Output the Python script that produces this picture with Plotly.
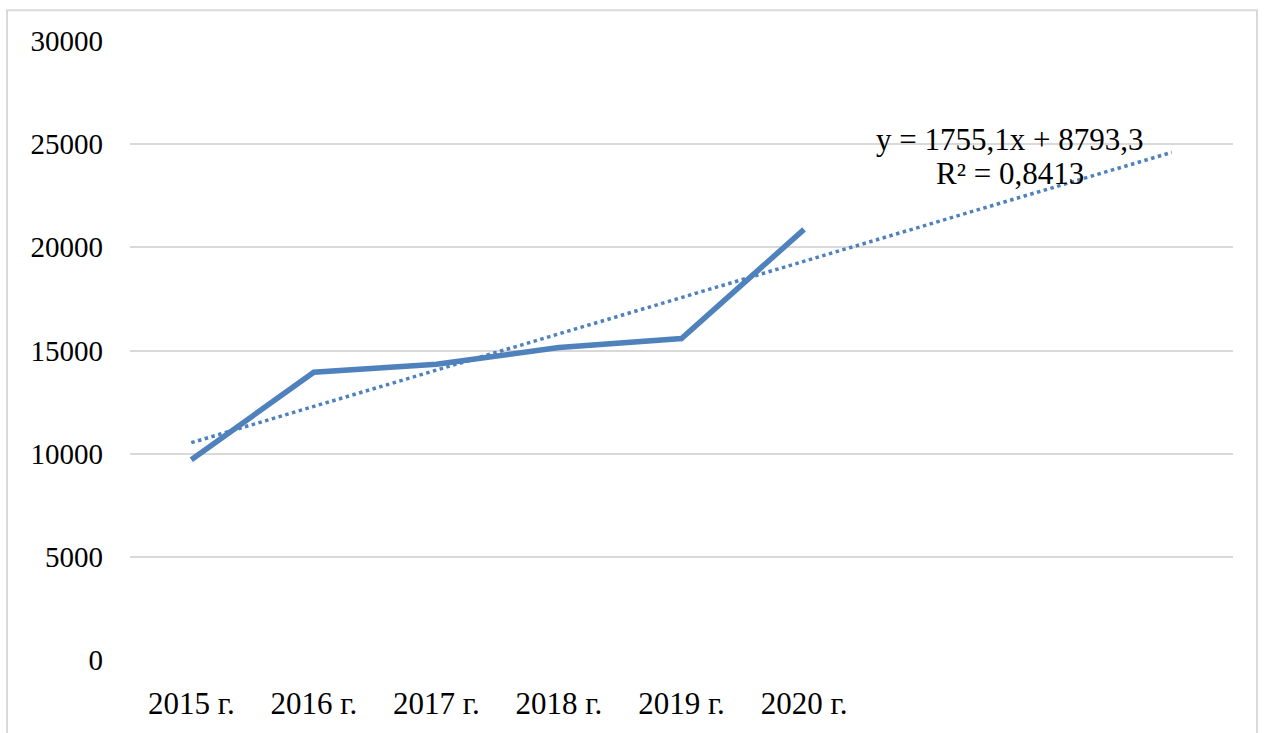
import numpy as np
import plotly.graph_objects as go

years = ["2015 г.", "2016 г.", "2017 г.", "2018 г.", "2019 г.", "2020 г."]
values = [9700, 13950, 14330, 15140, 15580, 20870]
forecast_periods = 3
y_ticks = [0, 5000, 10000, 15000, 20000, 25000, 30000]
y_ticktext = ["0", "5000", "10000", "15000", "20000", "25000", "30000"]
eq_line1 = "y = 1755,1x + 8793,3"
eq_line2 = "R² = 0,8413"

x_idx = np.arange(1, len(years) + 1)
slope, intercept = np.polyfit(x_idx, values, 1)
x_trend = np.arange(1, len(years) + forecast_periods + 1)
y_trend = slope * x_trend + intercept

font_family = "Liberation Serif, Times New Roman, serif"
blue = "#4F81BD"

fig = go.Figure()
fig.add_trace(go.Scatter(x=x_trend, y=y_trend, mode="lines",
                         line=dict(color=blue, width=3.5, dash="dot"),
                         hoverinfo="skip", showlegend=False))
fig.add_trace(go.Scatter(x=x_idx, y=values, mode="lines",
                         line=dict(color=blue, width=5.5),
                         showlegend=False))

fig.add_annotation(x=7.68, y=25240, text=eq_line1, showarrow=False,
                   xanchor="center", yanchor="middle",
                   font=dict(family=font_family, size=31, color="black"))
fig.add_annotation(x=7.68, y=23600, text=eq_line2, showarrow=False,
                   xanchor="center", yanchor="middle",
                   font=dict(family=font_family, size=31, color="black"))

fig.add_shape(type="rect", xref="paper", yref="paper",
              x0=-0.1115, x1=1.0218, y0=-0.3, y1=1.0497,
              line=dict(color="#D9D9D9", width=2), layer="below")

fig.update_layout(
    width=1264, height=733,
    margin=dict(l=130, r=31, t=41, b=68),
    paper_bgcolor="white", plot_bgcolor="white",
    font=dict(family=font_family, size=29, color="black"),
    xaxis=dict(range=[0.5, len(x_trend) + 0.5], tickvals=list(x_idx), ticktext=years,
               showgrid=False, zeroline=False, showline=False, ticks="",
               ticklabelstandoff=22, tickfont=dict(size=31)),
    yaxis=dict(range=[0, 30000], tickvals=y_ticks, ticktext=y_ticktext, showgrid=True,
               gridcolor="#D9D9D9", gridwidth=2, zeroline=False, showline=False,
               ticks="", ticklabelstandoff=26, tickfont=dict(size=29)),
)

fig.write_html("out.html", config={"displayModeBar": False},
               post_script="document.body.style.margin='0';document.body.style.overflow='hidden';")
